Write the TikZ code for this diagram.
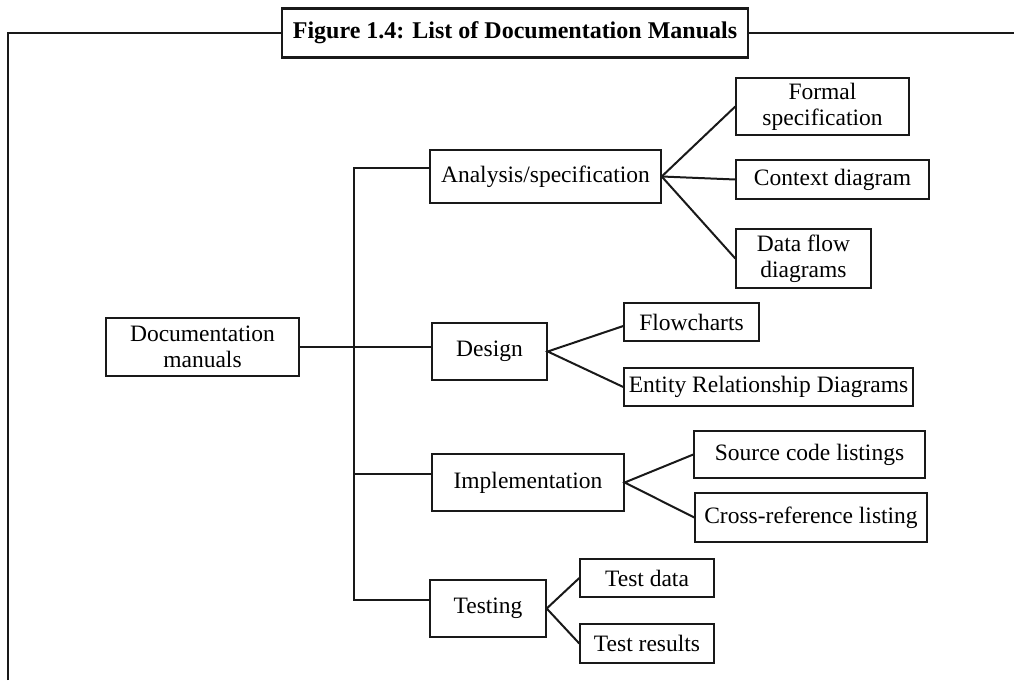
\documentclass[tikz,border=0pt]{standalone}
\usepackage{fontspec}
\setmainfont{Liberation Serif}
\begin{document}
\begin{tikzpicture}[x=1pt,y=-1pt,
  box/.style={draw=black!90,line width=1.4pt,inner sep=0pt,align=center,
    font=\fontsize{23.5}{26}\selectfont},
  fan/.style={line width=2pt,draw=black!90},
  link/.style={line width=1.5pt,draw=black!90},
  frame/.style={line width=2.4pt,draw=black!90}]
\useasboundingbox (0,0) rectangle (1014,680);
% frame
\coordinate (fbl) at (8,680);
\coordinate (ftl) at (8,33);
\coordinate (ftr) at (1014,33);
\draw[frame] (fbl) -- (ftl) -- (ftr);
\node[box,fill=white,line width=2.4pt,minimum width=466pt,minimum height=49pt,
  font=\fontsize{24}{26}\selectfont\bfseries] (title) at (515,33)
  {Figure 1.4: List of Documentation Manuals};
% main boxes
\node[box,minimum width=193pt,minimum height=58pt] (doc) at (202.5,347) {Documentation\\manuals};
\node[box,minimum width=231pt,minimum height=53pt] (ana) at (545.5,176.5) {Analysis/specification};
\node[box,minimum width=115pt,minimum height=57pt] (des) at (489.5,351.5) {Design};
\node[box,minimum width=192pt,minimum height=57pt] (imp) at (528,482.5) {Implementation};
\node[box,minimum width=116pt,minimum height=57pt] (tst) at (488,608.5) {Testing};
% leaves
\node[box,minimum width=173pt,minimum height=57pt] (formal) at (822.5,106.5) {Formal\\specification};
\node[box,minimum width=193pt,minimum height=39pt] (context) at (832.5,179.5) {Context diagram};
\node[box,minimum width=135pt,minimum height=59pt] (dfd) at (803.5,258.5) {Data flow\\diagrams};
\node[box,minimum width=135pt,minimum height=38pt] (flow) at (691.5,322) {Flowcharts};
\node[box,minimum width=289pt,minimum height=38pt] (erd) at (768.5,387) {Entity Relationship Diagrams};
\node[box,minimum width=231pt,minimum height=47pt] (src) at (809.5,454.5) {Source code listings};
\node[box,minimum width=232pt,minimum height=49pt] (xref) at (811,517.5) {Cross-reference listing};
\node[box,minimum width=134pt,minimum height=38pt] (tdata) at (647,578) {Test data};
\node[box,minimum width=134pt,minimum height=39pt] (tres) at (647,643.5) {Test results};
% bus
\coordinate (bustop) at (354,167);
\coordinate (busbot) at (354,601);
\draw[link] (bustop) -- (busbot);
\draw[link] (bustop |- 0,168) -- (ana.west |- 0,168);
\draw[link] (doc.east) -- (doc.east -| des.west);
\draw[link] (bustop |- 0,474) -- (imp.west |- 0,474);
\draw[link] (bustop |- 0,600) -- (tst.west |- 0,600);
% fans
\draw[fan] (formal.west) -- (ana.east) -- (dfd.west);
\draw[fan] (ana.east) -- (context.west);
\draw[fan] ([yshift=-4pt]flow.west) -- (des.east) -- (erd.west);
\draw[fan] (src.west) -- (imp.east) -- (xref.west);
\draw[fan] (tdata.west) -- (tst.east) -- (tres.west);
\end{tikzpicture}
\end{document}
